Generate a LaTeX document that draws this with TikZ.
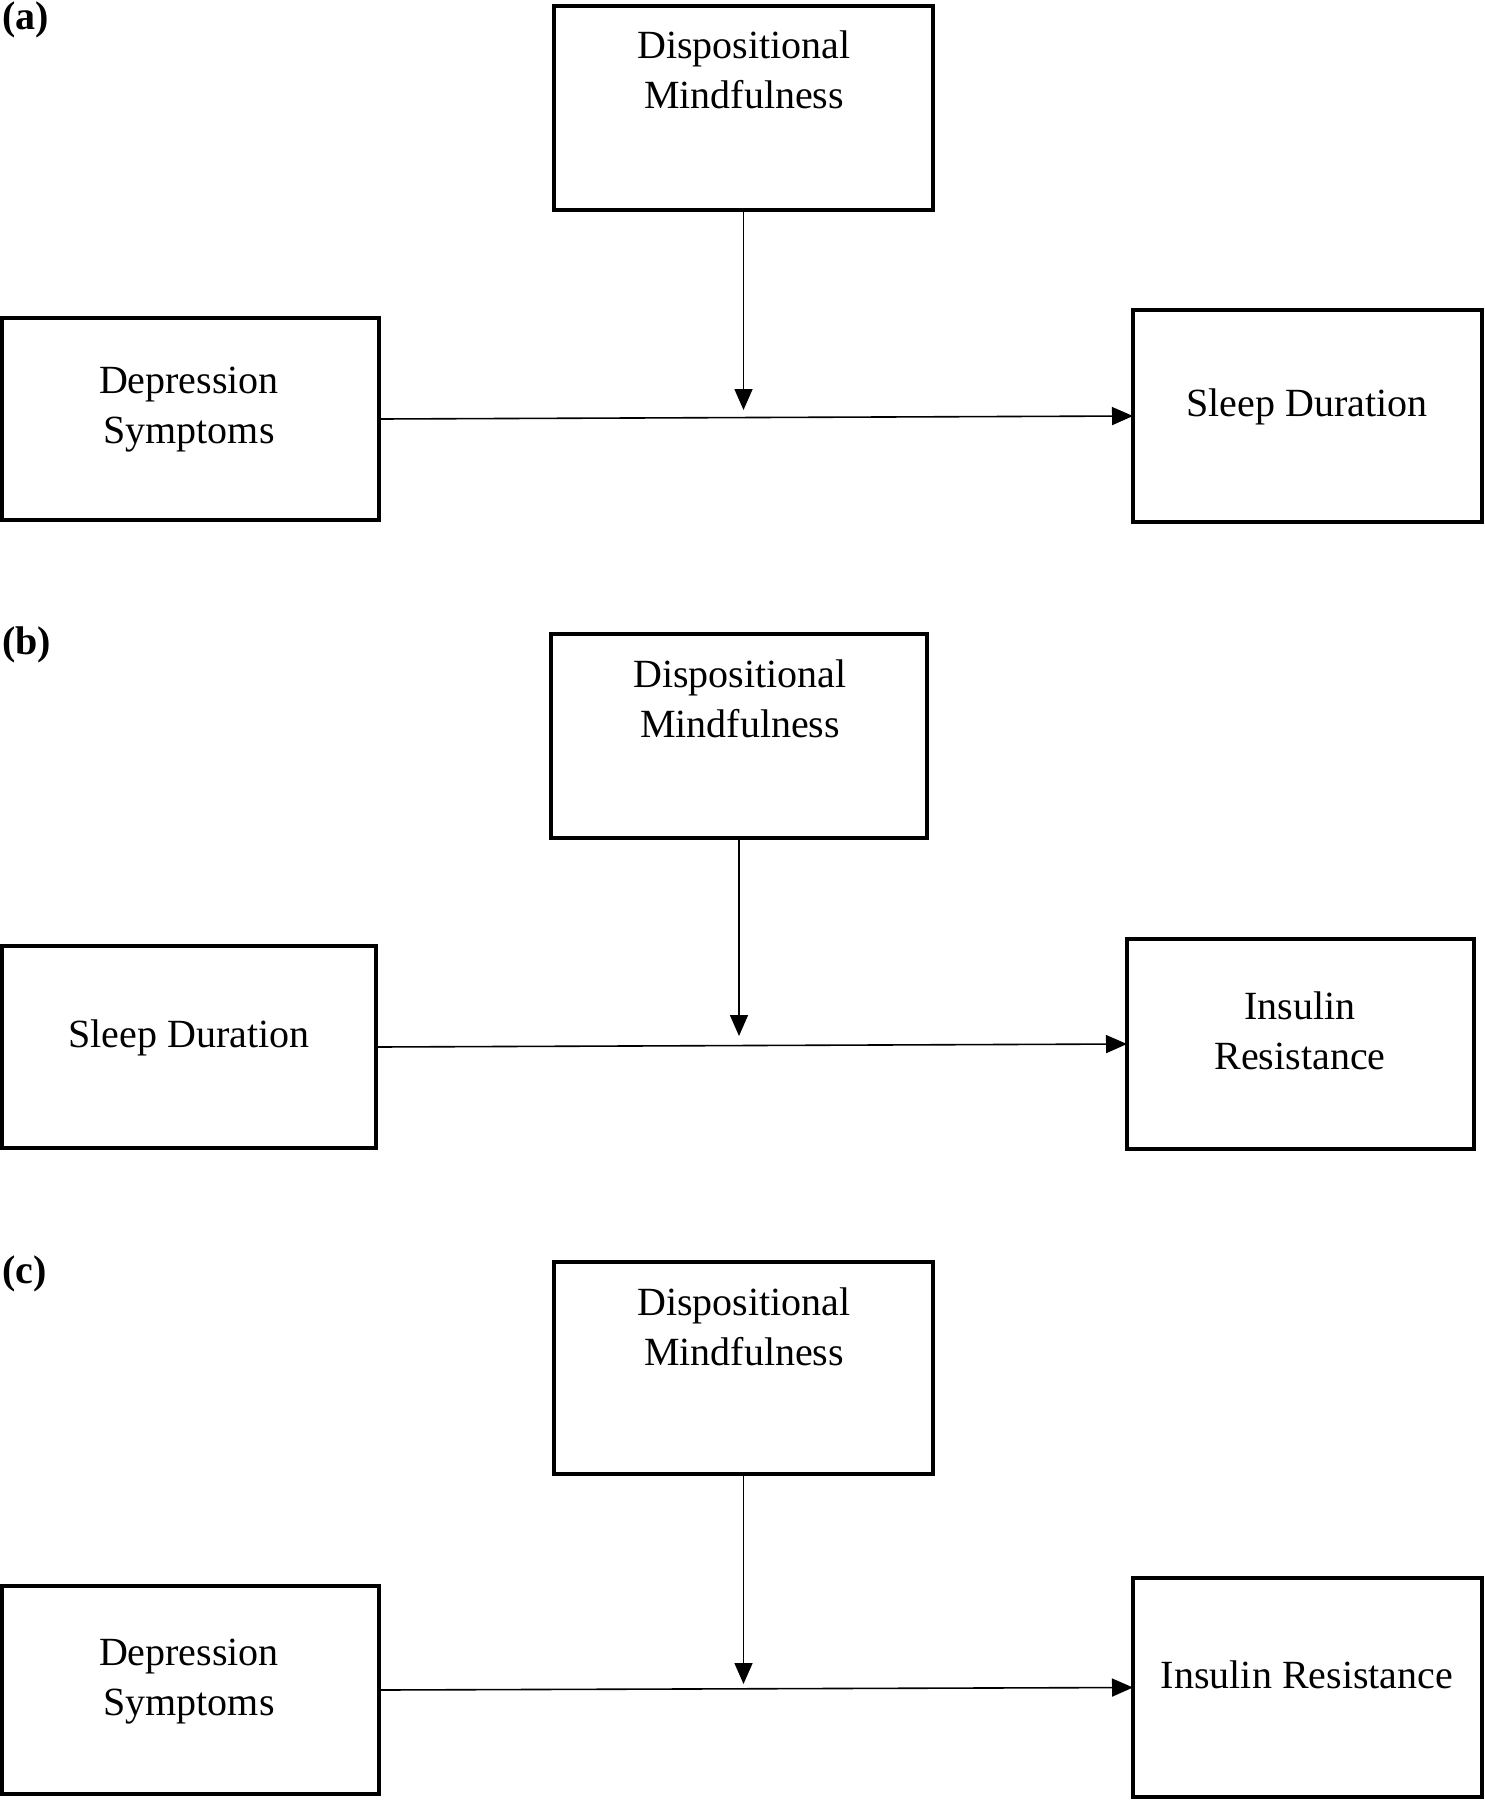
\documentclass[tikz,border=0pt]{standalone}
\usepackage{fontspec}
\setmainfont{Liberation Serif}
\usetikzlibrary{arrows.meta}
\begin{document}
\begin{tikzpicture}[x=0.5pt,y=-0.5pt,
  box/.style={draw,line width=1.6pt,inner sep=0pt,outer sep=0pt},
  txt/.style={inner sep=0pt,align=center,font=\fontsize{20}{25}\selectfont},
  lbl/.style={inner sep=0pt,anchor=west,font=\fontsize{20}{24}\selectfont\bfseries},
  arr/.style={line width=0.8pt,-{Triangle[length=10.5pt,width=9pt]}}]
\useasboundingbox[fill=white] (0,0) rectangle (1484,1800);
% panel (a)
\node[lbl] (la) at (2,20) {(a)};
\node[box,minimum width=189.5pt,minimum height=102pt] (dma) at (743.5,108) {};
\node[box,minimum width=188.5pt,minimum height=101pt] (dsa) at (190.5,419) {};
\node[box,minimum width=174.5pt,minimum height=106pt] (sda) at (1307.5,416) {};
\node[txt] (tdma) at (744,70) {Dispositional\\Mindfulness};
\node[txt] (tdsa) at (189,410) {Depression\\Symptoms};
\node[txt] (tsda) at (1307,407) {Sleep Duration};
\coordinate (ea) at (743.5,410);
\draw[arr] (dsa.east) -- (sda.west);
\draw[arr] (dma.south) -- (ea);
% panel (b)
\node[lbl] (lb) at (2,645) {(b)};
\node[box,minimum width=188pt,minimum height=102pt] (dmb) at (739,736) {};
\node[box,minimum width=187pt,minimum height=101pt] (slb) at (189,1047) {};
\node[box,minimum width=173.5pt,minimum height=105pt] (irb) at (1300.5,1044) {};
\node[txt] (tdmb) at (740,698.5) {Dispositional\\Mindfulness};
\node[txt] (tslb) at (189,1038) {Sleep Duration};
\node[txt] (tirb) at (1300,1031) {Insulin\\Resistance};
\coordinate (eb) at (739,1036);
\draw[arr] (slb.east) -- (irb.west);
\draw[arr] (dmb.south) -- (eb);
% panel (c)
\node[lbl] (lc) at (2,1274) {(c)};
\node[box,minimum width=189.5pt,minimum height=106pt] (dmc) at (743.5,1368) {};
\node[box,minimum width=188.5pt,minimum height=104pt] (dsc) at (190.5,1690) {};
\node[box,minimum width=174.5pt,minimum height=109.5pt] (irc) at (1307.5,1687.5) {};
\node[txt] (tdmc) at (744,1327) {Dispositional\\Mindfulness};
\node[txt] (tdsc) at (189,1682) {Depression\\Symptoms};
\node[txt] (tirc) at (1307,1675) {Insulin Resistance};
\coordinate (ec) at (743.5,1684);
\draw[arr] (dsc.east) -- (irc.west);
\draw[arr] (dmc.south) -- (ec);
\end{tikzpicture}
\end{document}
